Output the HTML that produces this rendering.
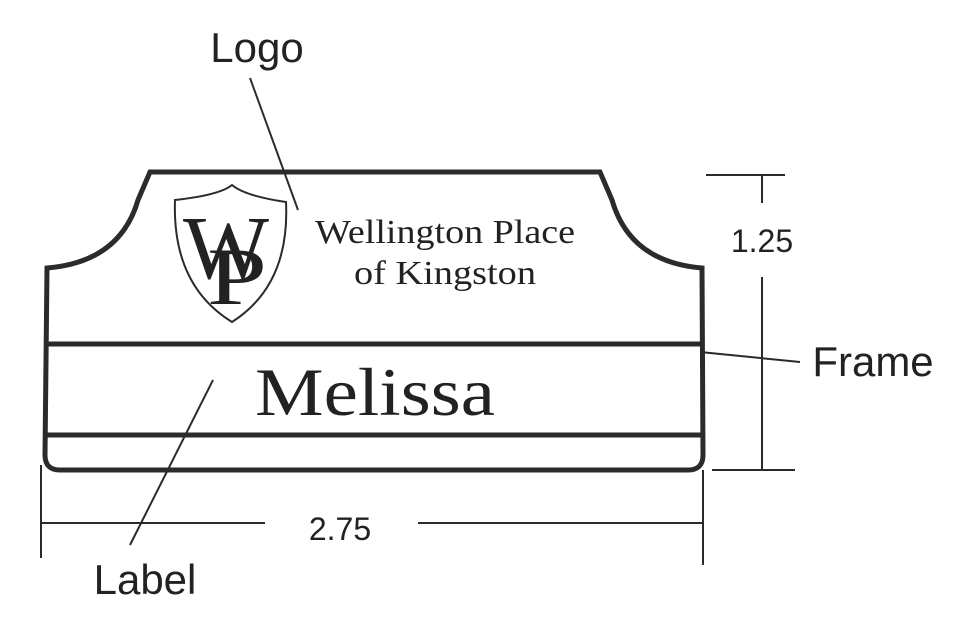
<!DOCTYPE html>
<html><head><style>
body{margin:0;background:#fff;width:980px;height:620px;overflow:hidden}
</style></head><body>
<svg width="980" height="620" viewBox="0 0 980 620" xmlns="http://www.w3.org/2000/svg">
<g fill="none" stroke="#2b2b2b">
<path d="M47 268 Q120 262 138 200 L150 172 L600 172 L612 200 Q630 262 702 268 L703 455 Q703 470 688 470 L60 470 Q45 470 45 455 Z" stroke-width="5"/>
<line x1="45" y1="344" x2="703" y2="344" stroke-width="5"/>
<line x1="45" y1="435" x2="703" y2="435" stroke-width="5"/>
<path d="M175 200 Q220 195 232 185 Q245 196 286 202 Q290 285 232 322 Q172 285 175 200 Z" stroke-width="2"/>
<g stroke-width="2">
<line x1="250" y1="78" x2="298" y2="210"/>
<line x1="700" y1="352" x2="800" y2="362"/>
<line x1="213" y1="380" x2="130" y2="545"/>
<line x1="706" y1="175" x2="785" y2="175"/>
<line x1="712" y1="470" x2="795" y2="470"/>
<line x1="762" y1="175" x2="762" y2="203"/>
<line x1="762" y1="277" x2="762" y2="470"/>
<line x1="41" y1="465" x2="41" y2="558"/>
<line x1="703" y1="470" x2="703" y2="565"/>
<line x1="41" y1="523" x2="265" y2="523"/>
<line x1="418" y1="523" x2="703" y2="523"/>
</g>
</g>
<g font-family="Liberation Serif, serif" fill="#222">
<text x="183" y="278" font-size="90" textLength="86" lengthAdjust="spacingAndGlyphs">W</text>
<text x="207" y="304" font-size="82" textLength="60" lengthAdjust="spacingAndGlyphs">P</text>
<text x="315" y="243" font-size="34" textLength="260" lengthAdjust="spacingAndGlyphs">Wellington Place</text>
<text x="354" y="284" font-size="34" textLength="182" lengthAdjust="spacingAndGlyphs">of Kingston</text>
<text x="255" y="415" font-size="68" textLength="240" lengthAdjust="spacingAndGlyphs">Melissa</text>
</g>
<g font-family="Liberation Sans, sans-serif" fill="#222">
<text x="257" y="62" font-size="42" text-anchor="middle">Logo</text>
<text x="873" y="376" font-size="42" text-anchor="middle">Frame</text>
<text x="145" y="594" font-size="42" text-anchor="middle">Label</text>
<text x="762" y="252" font-size="32" text-anchor="middle">1.25</text>
<text x="340" y="540" font-size="32" text-anchor="middle">2.75</text>
</g>
</svg>
</body></html>
